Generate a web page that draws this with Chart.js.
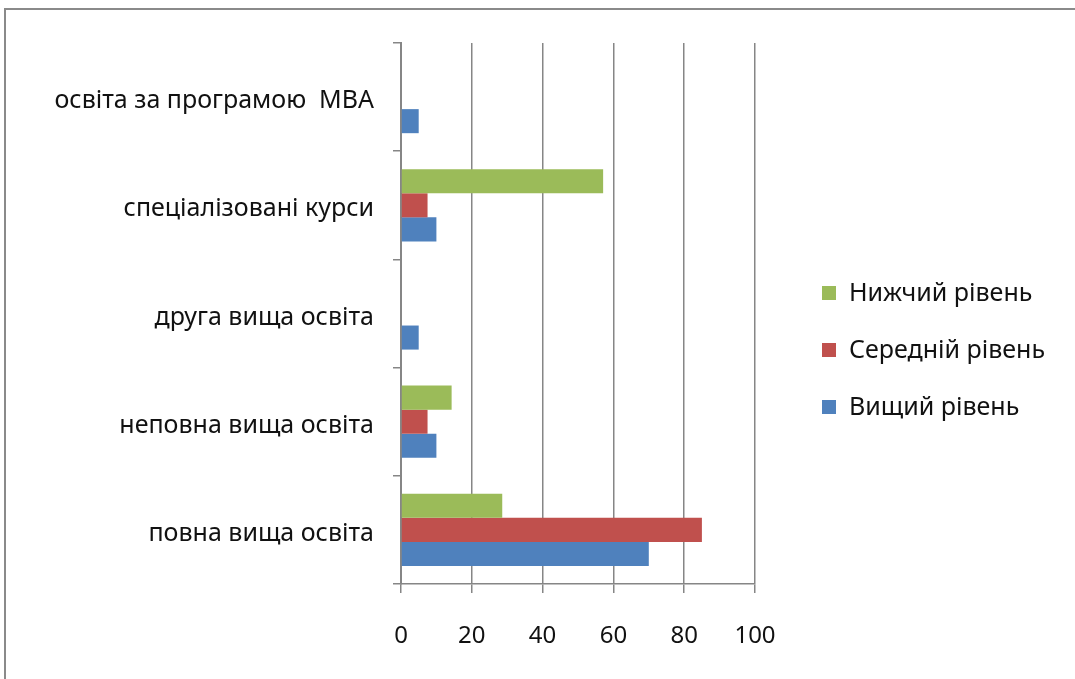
<!DOCTYPE html>
<html>
<head>
<meta charset="utf-8">
<script src="https://cdn.jsdelivr.net/npm/chart.js@4"></script>
<style>
    body { margin: 0; background: #fff; }
    #wrap { position: relative; width: 1075px; height: 679px; overflow: hidden; }
    #frame { position: absolute; left: 4px; top: 8px; width: 1200px; height: 800px;
             border-left: 2px solid #8a8a8a; border-top: 2px solid #8a8a8a; }
    #chart { position: absolute; left: 0; top: 0; }
    #legend { position: absolute; left: 819px; top: 274px; font-family: "Noto Sans", sans-serif;
              font-size: 25px; color: #111; }
    .item { height: 57px; display: flex; align-items: flex-start; }
    .item span.box { display: inline-block; width: 14px; height: 14px; margin: 12px 13px 0 3px; }
</style>
</head>
<body>
<div id="wrap">
    <div id="frame"></div>
    <canvas id="chart" width="1075" height="679"></canvas>
    <div id="legend"></div>
</div>
<script>
const categories = [
    'освіта за програмою  МВА',
    'спеціалізовані курси',
    'друга вища освіта',
    'неповна вища освіта',
    'повна вища освіта'
];
const seriesNames = ['Нижчий рівень', 'Середній рівень', 'Вищий рівень'];
const lowerLevel = [0, 57.1, 0, 14.3, 28.6];
const middleLevel = [0, 7.5, 0, 7.5, 85];
const upperLevel = [5, 10, 5, 10, 70];
const seriesColors = ['#9bbb59', '#c0504d', '#4f81bd'];
const xTicks = [0, 20, 40, 60, 80, 100];

const gridColor = '#868686';
const fontFamily = '"Noto Sans", sans-serif';

const datasets = [lowerLevel, middleLevel, upperLevel].map((vals, i) => ({
    label: seriesNames[i],
    data: vals,
    backgroundColor: seriesColors[i],
    categoryPercentage: 0.667,
    barPercentage: 1.0
}));

const ctx = document.getElementById('chart').getContext('2d');
new Chart(ctx, {
    type: 'bar',
    data: { labels: categories, datasets: datasets },
    options: {
        indexAxis: 'y',
        responsive: false,
        animation: false,
        devicePixelRatio: 1,
        layout: { padding: { top: 43, right: 320, left: 0, bottom: 0 } },
        plugins: { legend: { display: false }, tooltip: { enabled: false } },
        scales: {
            x: {
                min: 0,
                max: 100,
                afterFit: s => { s.height = 95; },
                afterBuildTicks: s => { s.ticks = xTicks.map(v => ({ value: v })); },
                grid: { color: gridColor, lineWidth: 1.5, tickLength: 9 },
                border: { color: gridColor, width: 1.5 },
                ticks: { color: '#111', padding: 29, font: { family: fontFamily, size: 24 } }
            },
            y: {
                afterFit: s => { s.width = 401; },
                grid: { color: gridColor, lineWidth: 1.5, tickLength: 8, drawOnChartArea: false, offset: true },
                border: { color: gridColor, width: 2 },
                ticks: { color: '#111', padding: 19, labelOffset: 4, font: { family: fontFamily, size: 25 } }
            }
        }
    }
});

// legend
const legend = document.getElementById('legend');
seriesNames.forEach((name, i) => {
    const div = document.createElement('div');
    div.className = 'item';
    div.innerHTML = `<span class="box" style="background:${seriesColors[i]}"></span>${name}`;
    legend.appendChild(div);
});
</script>
</body>
</html>
